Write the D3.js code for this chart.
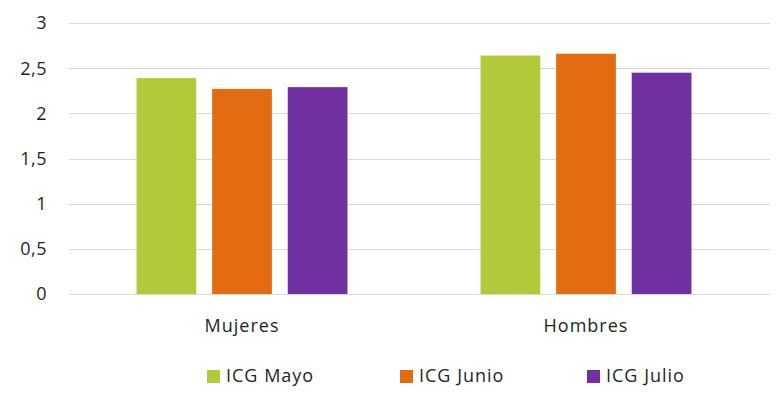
<!DOCTYPE html>
<html><head><meta charset="utf-8">
<script src="https://cdn.jsdelivr.net/npm/d3@7"></script>
<style>body{margin:0;background:#fff}svg{display:block}text{font-family:"Open Sans",Lato,sans-serif;fill:#1f1f1f}</style>
</head><body><svg id="c" width="780" height="403"></svg>
<script>
const categories = ["Mujeres", "Hombres"];
const seriesNames = ["ICG Mayo", "ICG Junio", "ICG Julio"];
const seriesValues = [
  [2.39, 2.64],
  [2.27, 2.66],
  [2.29, 2.45]
];
const colors = ["#b3c93a", "#e36c12", "#7030a0"];
const yTicks = [0, 0.5, 1, 1.5, 2, 2.5, 3];
const tickLabels = ["0", "0,5", "1", "1,5", "2", "2,5", "3"];

const svg = d3.select("#c");
const x0 = d3.scaleBand().domain(categories).range([70, 758]);
const x1 = d3.scaleBand().domain(seriesNames).range([0, x0.bandwidth()]).paddingInner(0.21).paddingOuter(0.88);
const y = d3.scaleLinear().domain([0, 3]).range([294, 23]);

// gridlines
svg.append("g").selectAll("line").data(yTicks).join("line")
  .attr("x1", 69).attr("x2", 770)
  .attr("y1", d => Math.round(y(d)) + 0.5).attr("y2", d => Math.round(y(d)) + 0.5)
  .attr("stroke", "#d9d9d9").attr("stroke-width", 1);

// y labels
svg.append("g").selectAll("text").data(yTicks).join("text")
  .attr("x", 47).attr("y", d => y(d)).attr("dy", "0.36em")
  .attr("text-anchor", "end").style("font-size", "18px").style("letter-spacing", "0.5px")
  .text((d, i) => tickLabels[i]);

// bars
const data = [];
seriesNames.forEach((s, si) => categories.forEach((c, ci) => data.push({s, c, v: seriesValues[si][ci], si})));
svg.append("g").selectAll("rect").data(data).join("rect")
  .attr("x", d => x0(d.c) + x1(d.s))
  .attr("width", x1.bandwidth())
  .attr("y", d => y(d.v))
  .attr("height", d => y(0) - y(d.v))
  .attr("fill", d => colors[d.si]);

// category labels
svg.append("g").selectAll("text").data(categories).join("text")
  .attr("x", d => x0(d) + x0.bandwidth() / 2).attr("y", 331.5)
  .attr("text-anchor", "middle").style("font-size", "18px").style("letter-spacing", "1px")
  .text(d => d);

// legend
const legX = [207, 400, 587];
const leg = svg.append("g").selectAll("g").data(seriesNames).join("g")
  .attr("transform", (d, i) => `translate(${legX[i]},370)`);
leg.append("rect").attr("width", 13).attr("height", 13).attr("fill", (d, i) => colors[i]);
leg.append("text").attr("x", 19).attr("y", 11.7).style("font-size", "18px").style("letter-spacing", "1px").text(d => d);
</script></body></html>
